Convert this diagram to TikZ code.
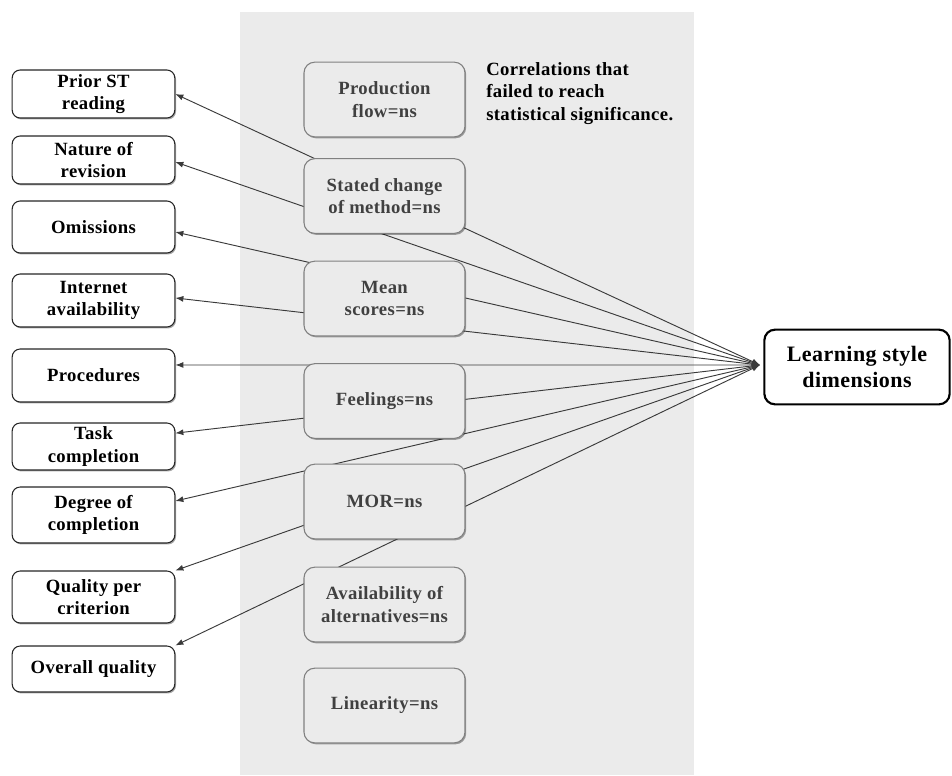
\documentclass[tikz,border=0pt]{standalone}
\usepackage{fontspec}
\setmainfont{Liberation Serif}[LetterSpace=2]
\usetikzlibrary{arrows.meta,shadows}
\definecolor{panel}{HTML}{EBEBEB}
\definecolor{midtext}{HTML}{404040}
\definecolor{midframe}{HTML}{808080}
\definecolor{linkcol}{HTML}{3A3A3A}
\begin{document}
\begin{tikzpicture}[x=0.75pt,y=-0.75pt,
  boxfont/.style={font=\fontsize{14}{17}\selectfont\bfseries},
  softshadow/.style={drop shadow={shadow xshift=0.9pt,shadow yshift=-1.1pt,opacity=0.35,fill=black}},
  outbox/.style={draw=black!85, fill=white, rounded corners=6pt, line width=0.8pt,
    minimum width=122pt, inner sep=0pt, align=center, boxfont, softshadow},
  nsbox/.style={draw=midframe, fill=panel, rounded corners=8pt, line width=0.8pt,
    minimum width=120.75pt, minimum height=56pt, inner sep=0pt, align=center,
    text=midtext, boxfont, softshadow},
  link/.style={draw=linkcol, line width=0.7pt,
    {Latex[length=6pt,width=4.5pt]}-{Latex[length=6pt,width=4.5pt]}}
]
\useasboundingbox (0,0) rectangle (952,775);

% shaded panel for the non-significant correlations
\fill[panel] (240,12) rectangle (694,775);

% outcome boxes on the left
\node[outbox, minimum height=36pt]    (prior)   at (93.5,94)    {Prior ST\\reading};
\node[outbox, minimum height=36pt]    (nature)  at (93.5,160)   {Nature of\\revision};
\node[outbox, minimum height=39pt]    (omis)    at (93.5,227)   {Omissions};
\node[outbox, minimum height=39.75pt] (inet)    at (93.5,300.5) {Internet\\availability};
\node[outbox, minimum height=39.75pt] (proc)    at (93.5,375.5) {Procedures};
\node[outbox, minimum height=35.25pt] (task)    at (93.5,446.5) {Task\\completion};
\node[outbox, minimum height=42pt]    (degree)  at (93.5,515)   {Degree of\\completion};
\node[outbox, minimum height=39pt]    (quality) at (93.5,597)   {Quality per\\criterion};
\node[outbox, minimum height=34.5pt]  (overall) at (93.5,669)   {Overall quality};

% learning style box on the right
\node[draw=black, fill=white, line width=1.6pt, rounded corners=8pt,
      minimum width=139pt, minimum height=56pt, inner sep=0pt, align=center,
      font=\fontsize{16.5}{19}\selectfont\bfseries] (learn) at (857,367)
      {Learning style\\dimensions};
\coordinate (hub) at ([xshift=-2.5pt,yshift=1.5pt]learn.west);

% note
\node[anchor=north west, align=left, inner sep=0pt, boxfont] (note) at (486,62)
  {Correlations that\\failed to reach\\statistical significance.};

% connectors (drawn before the grey boxes, which cover them)
\draw[link] (hub) -- (prior.east);
\draw[link] (hub) -- ([yshift=-1.5pt]nature.east);
\draw[link] (hub) -- ([yshift=-3.75pt]omis.east);
\draw[link] (hub) -- ([yshift=1.9pt]inet.east);
\draw[link] (hub) -- ([yshift=7.9pt]proc.east);
\draw[link] (hub) -- ([yshift=10pt]task.east);
\draw[link] (hub) -- ([yshift=10.5pt]degree.east);
\draw[link] (hub) -- (quality.north east);
\draw[link] (hub) -- (overall.north east);

% non-significant variables
\node[nsbox] (prodflow) at (384.5,99.5)  {Production\\flow=ns};
\node[nsbox] (stated)   at (384.5,196)   {Stated change\\of method=ns};
\node[nsbox] (mean)     at (384.5,298.5) {Mean\\scores=ns};
\node[nsbox] (feel)     at (384.5,401)   {Feelings=ns};
\node[nsbox] (mor)      at (384.5,501.5) {MOR=ns};
\node[nsbox] (avail)    at (384.5,604.5) {Availability of\\alternatives=ns};
\node[nsbox] (linear)   at (384.5,705.5) {Linearity=ns};
\end{tikzpicture}
\end{document}
